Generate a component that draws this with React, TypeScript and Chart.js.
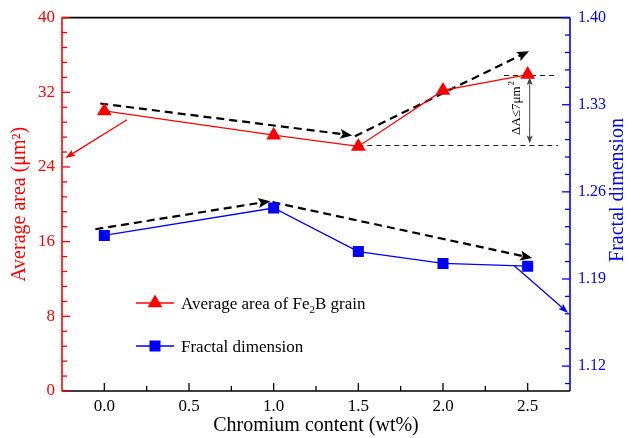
import React, { useEffect, useRef } from 'react';
import { Chart, registerables } from 'chart.js';

Chart.register(...registerables);

const FONT = "'Liberation Serif', 'Times New Roman', serif";

// Data
const chromium = [0.0, 1.0, 1.5, 2.0, 2.5];
const averageArea = [30.0, 27.4, 26.2, 32.2, 33.9];
const fractalDim = [1.225, 1.247, 1.212, 1.2025, 1.2003];

// Tick labels
const xTicks = [0.0, 0.5, 1.0, 1.5, 2.0, 2.5];
const leftTicks = [0, 8, 16, 24, 32, 40];
const rightTicks = [1.12, 1.19, 1.26, 1.33, 1.4];

// Annotations (data units: x, left-axis y)
const trendArrows = [
  [-0.024, 30.8, 1.464, 27.38],
  [1.48, 27.3, 2.508, 36.4],
  [-0.053, 17.33, 0.98, 20.34],
  [0.993, 20.23, 2.527, 14.24],
];
const redPointer = [0.134, 29.05, -0.23, 24.95];
const bluePointer = [2.419, 1.2009, 2.739, 1.1627]; // right-axis y
const refLines = [
  [2.36, 2.68, 33.85],
  [1.5, 2.68, 26.3],
];
const spanArrow = [2.512, 33.65, 26.5];
const deltaLabel = { x: 2.435, y: 30.35, text: 'ΔA≤7μm', sup: '2' };

function drawHead(ctx: CanvasRenderingContext2D, x: number, y: number, ux: number, uy: number, L: number, W: number) {
  ctx.beginPath();
  ctx.moveTo(x, y);
  ctx.lineTo(x - ux * L - uy * W, y - uy * L + ux * W);
  ctx.lineTo(x - ux * L * 0.8, y - uy * L * 0.8);
  ctx.lineTo(x - ux * L + uy * W, y - uy * L - ux * W);
  ctx.closePath();
  ctx.fill();
}

function arrow(
  ctx: CanvasRenderingContext2D,
  x1: number, y1: number, x2: number, y2: number,
  o: { color: string; width: number; dash?: number[]; head: number; half: number; both?: boolean }
) {
  const dx = x2 - x1, dy = y2 - y1;
  const len = Math.hypot(dx, dy);
  const ux = dx / len, uy = dy / len;
  ctx.save();
  ctx.strokeStyle = o.color;
  ctx.fillStyle = o.color;
  ctx.lineWidth = o.width;
  ctx.setLineDash(o.dash || []);
  ctx.beginPath();
  const sx = o.both ? x1 + ux * o.head * 0.7 : x1;
  const sy = o.both ? y1 + uy * o.head * 0.7 : y1;
  ctx.moveTo(sx, sy);
  ctx.lineTo(x2 - ux * o.head * 0.7, y2 - uy * o.head * 0.7);
  ctx.stroke();
  ctx.setLineDash([]);
  drawHead(ctx, x2, y2, ux, uy, o.head, o.half);
  if (o.both) drawHead(ctx, x1, y1, -ux, -uy, o.head, o.half);
  ctx.restore();
}

const decorPlugin = {
  id: 'decor',
  beforeDatasetsDraw(chart: any) {
    const { ctx } = chart;
    const xs = chart.scales.x, yl = chart.scales.yL, yr = chart.scales.yR;
    trendArrows.forEach(([a, b, c, d]) => {
      arrow(ctx, xs.getPixelForValue(a), yl.getPixelForValue(b), xs.getPixelForValue(c), yl.getPixelForValue(d), {
        color: '#000', width: 2.2, dash: [8, 5], head: 12, half: 5,
      });
    });
    arrow(ctx, xs.getPixelForValue(redPointer[0]), yl.getPixelForValue(redPointer[1]),
      xs.getPixelForValue(redPointer[2]), yl.getPixelForValue(redPointer[3]),
      { color: '#ff0000', width: 1.3, head: 10, half: 3.5 });
    arrow(ctx, xs.getPixelForValue(bluePointer[0]), yr.getPixelForValue(bluePointer[1]),
      xs.getPixelForValue(bluePointer[2]), yr.getPixelForValue(bluePointer[3]),
      { color: '#0000ff', width: 1.3, head: 10, half: 3.5 });
    ctx.save();
    ctx.strokeStyle = '#222';
    ctx.lineWidth = 1;
    ctx.setLineDash([5, 4]);
    refLines.forEach(([a, b, v]) => {
      const y = Math.round(yl.getPixelForValue(v)) + 0.5;
      ctx.beginPath();
      ctx.moveTo(xs.getPixelForValue(a), y);
      ctx.lineTo(xs.getPixelForValue(b), y);
      ctx.stroke();
    });
    ctx.restore();
    const sxp = xs.getPixelForValue(spanArrow[0]);
    arrow(ctx, sxp, yl.getPixelForValue(spanArrow[1]), sxp, yl.getPixelForValue(spanArrow[2]),
      { color: '#444', width: 1, head: 8, half: 3, both: true });
    ctx.save();
    ctx.translate(xs.getPixelForValue(deltaLabel.x), yl.getPixelForValue(deltaLabel.y));
    ctx.rotate(-Math.PI / 2);
    ctx.fillStyle = '#000';
    ctx.font = `13px ${FONT}`;
    ctx.textBaseline = 'middle';
    const w = ctx.measureText(deltaLabel.text).width;
    ctx.textAlign = 'left';
    ctx.fillText(deltaLabel.text, -w / 2 - 3, 0);
    ctx.font = `9px ${FONT}`;
    ctx.fillText(deltaLabel.sup, w / 2 - 2, -5);
    ctx.restore();
  },
  afterDraw(chart: any) {
    const { ctx, chartArea } = chart;
    const { left, right, top, bottom } = chartArea;
    const xs = chart.scales.x, yl = chart.scales.yL, yr = chart.scales.yR;
    ctx.save();
    ctx.lineWidth = 1.6;
    ctx.strokeStyle = '#000';
    ctx.beginPath();
    ctx.moveTo(left, top); ctx.lineTo(right, top);
    ctx.moveTo(left, bottom); ctx.lineTo(right, bottom);
    ctx.stroke();
    ctx.lineWidth = 1.3;
    for (let i = 0; i <= 10; i++) {
      const v = i * 0.25;
      const x = xs.getPixelForValue(v);
      const L = i % 2 === 0 ? 8 : 5;
      ctx.beginPath(); ctx.moveTo(x, bottom); ctx.lineTo(x, bottom - L); ctx.stroke();
    }
    ctx.strokeStyle = '#ff0000';
    ctx.lineWidth = 1.6;
    ctx.beginPath(); ctx.moveTo(left, top); ctx.lineTo(left, bottom); ctx.stroke();
    ctx.lineWidth = 1.3;
    for (let i = 0; i <= 25; i++) {
      const y = yl.getPixelForValue(i * 1.6);
      const L = i % 5 === 0 ? 8 : 5;
      ctx.beginPath(); ctx.moveTo(left, y); ctx.lineTo(left + L, y); ctx.stroke();
    }
    ctx.strokeStyle = '#0000ff';
    ctx.lineWidth = 1.6;
    ctx.beginPath(); ctx.moveTo(right, top); ctx.lineTo(right, bottom); ctx.stroke();
    ctx.lineWidth = 1.3;
    for (let i = 0; i <= 21; i++) {
      const v = 1.106 + i * 0.014;
      const y = yr.getPixelForValue(v);
      const L = (i - 1) % 5 === 0 ? 8 : 5;
      ctx.beginPath(); ctx.moveTo(right, y); ctx.lineTo(right - L, y); ctx.stroke();
    }
    ctx.save();
    ctx.translate(618, 190);
    ctx.rotate(-Math.PI / 2);
    ctx.fillStyle = '#0000ff';
    ctx.font = `20px ${FONT}`;
    ctx.textAlign = 'center';
    ctx.textBaseline = 'middle';
    ctx.fillText('Fractal dimension', 0, 0);
    ctx.restore();

    const rows = [
      { y: 303, color: '#ff0000', style: 'tri', parts: [['Average area of Fe', 0], ['2', 1], ['B grain', 0]] },
      { y: 346, color: '#0000ff', style: 'sq', parts: [['Fractal dimension', 0]] },
    ];
    rows.forEach((r) => {
      ctx.strokeStyle = r.color;
      ctx.fillStyle = r.color;
      ctx.lineWidth = 1.3;
      ctx.beginPath(); ctx.moveTo(136, r.y); ctx.lineTo(174, r.y); ctx.stroke();
      const cx = 155;
      if (r.style === 'tri') {
        const rr = 8.5;
        ctx.beginPath();
        ctx.moveTo(cx, r.y - rr);
        ctx.lineTo(cx + rr * 0.866, r.y + rr * 0.5);
        ctx.lineTo(cx - rr * 0.866, r.y + rr * 0.5);
        ctx.closePath(); ctx.fill();
      } else {
        ctx.fillRect(cx - 5.5, r.y - 5.5, 11, 11);
      }
      ctx.fillStyle = '#000';
      ctx.textAlign = 'left';
      ctx.textBaseline = 'alphabetic';
      let tx = 181;
      (r.parts as any[]).forEach(([t, sub]) => {
        ctx.font = sub ? `11px ${FONT}` : `17px ${FONT}`;
        ctx.fillText(t, tx, r.y + 6 + (sub ? 4 : 0));
        tx += ctx.measureText(t).width;
      });
    });
    ctx.restore();
  },
};

export default function App() {
  const ref = useRef<HTMLCanvasElement>(null);
  useEffect(() => {
    document.body.style.margin = '0';
    const chart = new Chart(ref.current as HTMLCanvasElement, {
      type: 'line',
      data: {
        datasets: [
          {
            label: 'Average area of Fe2B grain',
            data: chromium.map((x, i) => ({ x, y: averageArea[i] })),
            yAxisID: 'yL',
            borderColor: '#ff0000',
            backgroundColor: '#ff0000',
            borderWidth: 1.3,
            pointStyle: 'triangle',
            pointRadius: 8.5,
            pointBorderWidth: 0,
            pointBackgroundColor: '#ff0000',
          },
          {
            label: 'Fractal dimension',
            data: chromium.map((x, i) => ({ x, y: fractalDim[i] })),
            yAxisID: 'yR',
            borderColor: '#0000ff',
            backgroundColor: '#0000ff',
            borderWidth: 1.3,
            pointStyle: 'rect',
            pointRadius: 7.8,
            pointBorderWidth: 0,
            pointBackgroundColor: '#0000ff',
          },
        ],
      },
      options: {
        responsive: false,
        animation: false,
        layout: { padding: { top: 15, left: 0, right: 0, bottom: 0 } },
        plugins: { legend: { display: false }, tooltip: { enabled: false } },
        scales: {
          x: {
            type: 'linear',
            position: 'bottom',
            min: -0.25,
            max: 2.75,
            afterBuildTicks: (s: any) => { s.ticks = xTicks.map((v) => ({ value: v })); },
            afterFit: (s: any) => { s.height = 47; },
            grid: { display: false, drawTicks: false },
            border: { display: false },
            ticks: {
              padding: 5,
              color: '#000',
              font: { family: FONT, size: 17 },
              maxRotation: 0,
              autoSkip: false,
              callback: (v: any) => Number(v).toFixed(1),
            },
            title: {
              display: true,
              text: 'Chromium content (wt%)',
              color: '#000',
              font: { family: FONT, size: 20 },
              padding: { top: 0, bottom: 0 },
            },
          },
          yL: {
            type: 'linear',
            position: 'left',
            min: 0,
            max: 40,
            afterBuildTicks: (s: any) => { s.ticks = leftTicks.map((v) => ({ value: v })); },
            afterFit: (s: any) => { s.width = 62; },
            grid: { display: false, drawTicks: false },
            border: { display: false },
            ticks: {
              padding: 7,
              color: '#ff0000',
              font: { family: FONT, size: 17 },
              callback: (v: any) => String(v),
            },
            title: {
              display: true,
              text: 'Average area (μm²)',
              color: '#ff0000',
              font: { family: FONT, size: 20 },
              padding: { top: 8, bottom: 0 },
            },
          },
          yR: {
            type: 'linear',
            position: 'right',
            min: 1.1,
            max: 1.4,
            afterBuildTicks: (s: any) => { s.ticks = rightTicks.map((v) => ({ value: v })); },
            afterFit: (s: any) => { s.width = 60; },
            grid: { display: false, drawTicks: false },
            border: { display: false },
            ticks: {
              padding: 8,
              color: '#0000ff',
              font: { family: FONT, size: 16 },
              callback: (v: any) => Number(v).toFixed(2),
            },
          },
        },
      },
      plugins: [decorPlugin],
    } as any);
    return () => chart.destroy();
  }, []);
  return (
    <div style={{ position: 'absolute', left: 0, top: 0, width: 630, height: 438 }}>
      <canvas ref={ref} width={630} height={438} style={{ display: 'block', width: 630, height: 438 }} />
    </div>
  );
}
